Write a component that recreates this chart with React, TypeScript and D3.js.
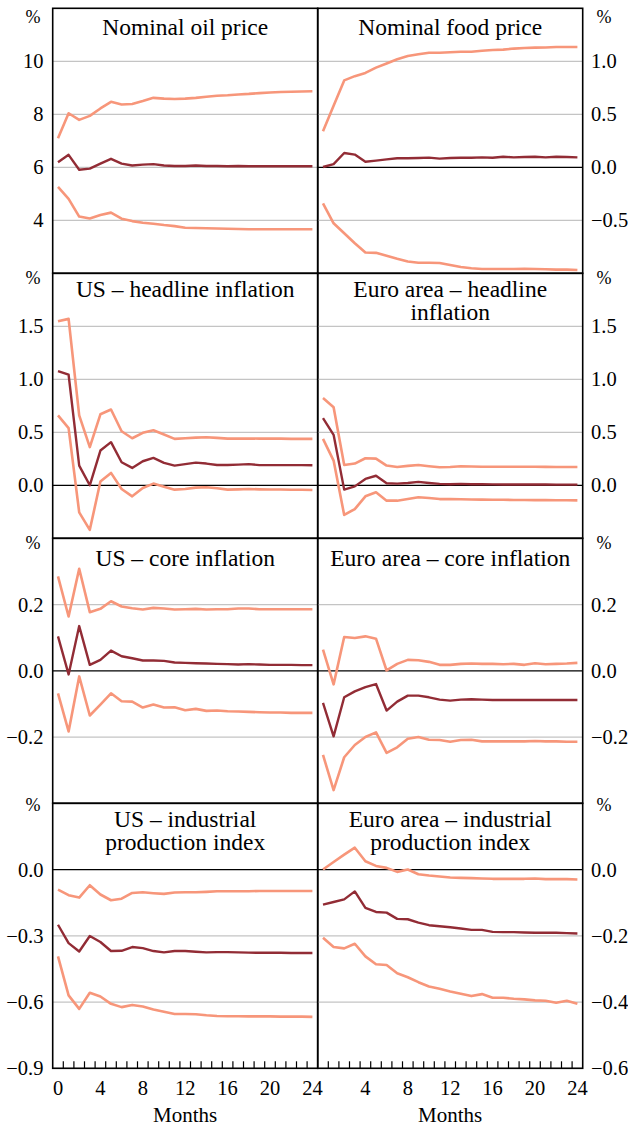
import React from "react";
import * as d3 from "d3";

// ---------- data (months 0..24) ----------
const months = d3.range(0, 25);

const oilUpper = [7.1, 8.04, 7.79, 7.94, 8.22, 8.47, 8.37, 8.39, 8.5, 8.62, 8.59, 8.58, 8.59, 8.62, 8.66, 8.7, 8.72, 8.75, 8.77, 8.8, 8.82, 8.84, 8.85, 8.86, 8.87];
const oilMid = [6.19, 6.47, 5.91, 5.95, 6.14, 6.32, 6.14, 6.07, 6.1, 6.12, 6.07, 6.05, 6.05, 6.07, 6.05, 6.05, 6.04, 6.05, 6.04, 6.04, 6.04, 6.04, 6.04, 6.04, 6.04];
const oilLower = [5.26, 4.81, 4.14, 4.07, 4.2, 4.29, 4.06, 3.97, 3.91, 3.87, 3.82, 3.78, 3.72, 3.71, 3.7, 3.69, 3.68, 3.67, 3.66, 3.66, 3.66, 3.66, 3.66, 3.66, 3.66];

const foodUpper = [0.34, 0.58, 0.82, 0.86, 0.89, 0.94, 0.98, 1.02, 1.05, 1.066, 1.08, 1.08, 1.085, 1.09, 1.09, 1.1, 1.107, 1.11, 1.12, 1.126, 1.129, 1.13, 1.135, 1.135, 1.135];
const foodMid = [0.003, 0.03, 0.135, 0.12, 0.053, 0.063, 0.075, 0.085, 0.085, 0.088, 0.091, 0.082, 0.088, 0.09, 0.09, 0.094, 0.09, 0.1, 0.094, 0.097, 0.1, 0.094, 0.1, 0.097, 0.094];
const foodLower = [-0.34, -0.528, -0.622, -0.716, -0.804, -0.807, -0.835, -0.863, -0.888, -0.9, -0.9, -0.903, -0.922, -0.941, -0.953, -0.96, -0.96, -0.96, -0.96, -0.958, -0.96, -0.962, -0.965, -0.965, -0.969];

const usHeadUpper = [1.547, 1.57, 0.66, 0.36, 0.67, 0.715, 0.51, 0.444, 0.495, 0.52, 0.48, 0.438, 0.444, 0.45, 0.454, 0.447, 0.44, 0.44, 0.442, 0.44, 0.44, 0.44, 0.438, 0.438, 0.438];
const usHeadMid = [1.078, 1.043, 0.186, 0.0, 0.328, 0.407, 0.217, 0.164, 0.227, 0.258, 0.211, 0.186, 0.2, 0.214, 0.205, 0.192, 0.192, 0.195, 0.2, 0.19, 0.19, 0.19, 0.19, 0.19, 0.189];
const usHeadLower = [0.66, 0.54, -0.255, -0.42, 0.035, 0.117, -0.035, -0.104, -0.025, 0.016, -0.013, -0.041, -0.035, -0.022, -0.019, -0.028, -0.041, -0.038, -0.035, -0.038, -0.04, -0.04, -0.042, -0.042, -0.044];

const euHeadUpper = [0.823, 0.737, 0.192, 0.205, 0.255, 0.252, 0.186, 0.173, 0.183, 0.192, 0.18, 0.17, 0.173, 0.18, 0.178, 0.175, 0.175, 0.175, 0.175, 0.175, 0.175, 0.174, 0.173, 0.173, 0.173];
const euHeadMid = [0.633, 0.476, -0.041, -0.01, 0.06, 0.09, 0.019, 0.016, 0.022, 0.032, 0.022, 0.013, 0.01, 0.013, 0.01, 0.01, 0.009, 0.008, 0.008, 0.007, 0.007, 0.007, 0.006, 0.006, 0.006];
const euHeadLower = [0.438, 0.233, -0.28, -0.224, -0.104, -0.066, -0.145, -0.145, -0.13, -0.113, -0.12, -0.13, -0.13, -0.132, -0.134, -0.135, -0.136, -0.137, -0.138, -0.139, -0.14, -0.14, -0.141, -0.141, -0.142];

const usCoreUpper = [0.285, 0.164, 0.308, 0.177, 0.187, 0.21, 0.194, 0.189, 0.185, 0.19, 0.188, 0.185, 0.186, 0.187, 0.185, 0.186, 0.186, 0.188, 0.188, 0.186, 0.186, 0.186, 0.186, 0.186, 0.186];
const usCoreMid = [0.104, -0.011, 0.135, 0.018, 0.033, 0.061, 0.044, 0.038, 0.031, 0.031, 0.03, 0.025, 0.024, 0.023, 0.022, 0.021, 0.02, 0.019, 0.02, 0.019, 0.018, 0.018, 0.018, 0.017, 0.017];
const usCoreLower = [-0.068, -0.183, -0.017, -0.135, -0.102, -0.068, -0.092, -0.093, -0.111, -0.102, -0.111, -0.11, -0.119, -0.115, -0.121, -0.12, -0.122, -0.123, -0.124, -0.125, -0.126, -0.126, -0.127, -0.127, -0.127];

const euCoreUpper = [0.064, -0.041, 0.102, 0.099, 0.104, 0.097, 0.001, 0.021, 0.033, 0.032, 0.027, 0.018, 0.018, 0.021, 0.022, 0.021, 0.021, 0.02, 0.021, 0.018, 0.023, 0.02, 0.021, 0.022, 0.024];
const euCoreMid = [-0.097, -0.198, -0.08, -0.062, -0.049, -0.04, -0.12, -0.093, -0.075, -0.075, -0.08, -0.087, -0.09, -0.087, -0.086, -0.087, -0.088, -0.088, -0.088, -0.088, -0.088, -0.088, -0.088, -0.088, -0.088];
const euCoreLower = [-0.254, -0.36, -0.261, -0.224, -0.2, -0.186, -0.248, -0.231, -0.205, -0.2, -0.208, -0.209, -0.214, -0.209, -0.208, -0.213, -0.213, -0.213, -0.213, -0.213, -0.212, -0.213, -0.213, -0.214, -0.214];

const usIpUpper = [-0.091, -0.116, -0.127, -0.071, -0.113, -0.139, -0.132, -0.106, -0.103, -0.107, -0.11, -0.104, -0.103, -0.103, -0.101, -0.098, -0.098, -0.098, -0.098, -0.097, -0.097, -0.097, -0.097, -0.097, -0.097];
const usIpMid = [-0.25, -0.333, -0.371, -0.301, -0.328, -0.369, -0.368, -0.351, -0.356, -0.369, -0.375, -0.369, -0.369, -0.372, -0.375, -0.374, -0.374, -0.375, -0.376, -0.377, -0.377, -0.377, -0.378, -0.378, -0.378];
const usIpLower = [-0.393, -0.57, -0.631, -0.558, -0.575, -0.608, -0.623, -0.613, -0.62, -0.634, -0.644, -0.654, -0.654, -0.655, -0.66, -0.663, -0.664, -0.664, -0.665, -0.665, -0.665, -0.666, -0.666, -0.666, -0.667];

const euIpUpper = [0.0, 0.023, 0.045, 0.066, 0.025, 0.011, 0.005, -0.007, 0.0, -0.014, -0.018, -0.021, -0.024, -0.025, -0.026, -0.027, -0.028, -0.028, -0.028, -0.028, -0.027, -0.029, -0.029, -0.029, -0.03];
const euIpMid = [-0.106, -0.098, -0.09, -0.066, -0.116, -0.128, -0.13, -0.149, -0.15, -0.16, -0.168, -0.171, -0.174, -0.178, -0.182, -0.182, -0.188, -0.189, -0.189, -0.19, -0.191, -0.191, -0.191, -0.192, -0.193];
const euIpLower = [-0.206, -0.234, -0.238, -0.224, -0.262, -0.286, -0.288, -0.313, -0.325, -0.34, -0.353, -0.36, -0.368, -0.375, -0.382, -0.376, -0.387, -0.387, -0.39, -0.392, -0.395, -0.396, -0.402, -0.396, -0.405];

const titles = [
  ["Nominal oil price"], ["Nominal food price"],
  ["US \u2013 headline inflation"], ["Euro area \u2013 headline", "inflation"],
  ["US \u2013 core inflation"], ["Euro area \u2013 core inflation"],
  ["US \u2013 industrial", "production index"], ["Euro area \u2013 industrial", "production index"],
];
const domains = [[2, 12], [-1, 1.5], [-0.5, 2], [-0.5, 2], [-0.4, 0.4], [-0.4, 0.4], [-0.9, 0.3], [-0.6, 0.2]];
const tickValues = [
  [4, 6, 8, 10], [-0.5, 0, 0.5, 1.0],
  [0, 0.5, 1.0, 1.5], [0, 0.5, 1.0, 1.5],
  [-0.2, 0, 0.2], [-0.2, 0, 0.2],
  [-0.9, -0.6, -0.3, 0], [-0.6, -0.4, -0.2, 0],
];
const tickFormats = ["d", ".1f", ".1f", ".1f", ".1f", ".1f", ".1f", ".1f"];
const seriesData = [
  [oilUpper, oilMid, oilLower], [foodUpper, foodMid, foodLower],
  [usHeadUpper, usHeadMid, usHeadLower], [euHeadUpper, euHeadMid, euHeadLower],
  [usCoreUpper, usCoreMid, usCoreLower], [euCoreUpper, euCoreMid, euCoreLower],
  [usIpUpper, usIpMid, usIpLower], [euIpUpper, euIpMid, euIpLower],
];
const monthLabels = [0, 4, 8, 12, 16, 20, 24];

// ---------- layout ----------
const W = 628, H = 1127;
const X0 = 52.7, PW = 265, Y0 = 8.3, PH = 265;
const titleOffset = [26.7, 23.4, 27.7, 23.4];
const pctOffset = [8.4, 4.5, 4, 1.5];
const LIGHT = "#F7967A";
const DARK = "#922C35";
const FONT = "'Liberation Serif', 'Times New Roman', serif";

function Panel({ idx }: { idx: number }) {
  const col = idx % 2;
  const row = Math.floor(idx / 2);
  const left = X0 + col * PW;
  const right = left + PW;
  const top = Y0 + row * PH;
  const bottom = top + PH;
  const x = d3.scaleLinear().domain([-0.5, 24.5]).range([left, right]);
  const y = d3.scaleLinear().domain(domains[idx]).range([bottom, top]);
  const line = d3.line<number>().x((_, i) => x(months[i])).y((d) => y(d));
  const fmt = d3.format(tickFormats[idx]);
  const [up, mid, low] = seriesData[idx];
  const isLast = row === 3;
  return (
    <g>
      {tickValues[idx].map((t) => (
        <line key={"g" + t} x1={left} x2={right} y1={y(t)} y2={y(t)}
          stroke={Math.abs(t) < 1e-9 && idx !== 0 ? "#000" : "#c4c4c4"} strokeWidth={1.2} />
      ))}
      {tickValues[idx].map((t) => (
        <text key={"t" + t} x={col === 0 ? 43.5 : 591} y={y(t)} dy="0.35em"
          textAnchor={col === 0 ? "end" : "start"} fontSize={20.5}>{fmt(t)}</text>
      ))}
      <text x={col === 0 ? 33 : 604} y={top + pctOffset[row]} dy="0.35em" textAnchor="middle" fontSize={18}>%</text>
      <path d={line(up) || ""} fill="none" stroke={LIGHT} strokeWidth={2.6} strokeLinejoin="round" />
      <path d={line(low) || ""} fill="none" stroke={LIGHT} strokeWidth={2.6} strokeLinejoin="round" />
      <path d={line(mid) || ""} fill="none" stroke={DARK} strokeWidth={2.4} strokeLinejoin="round" />
      {titles[idx].map((t, i) => (
        <text key={"ti" + i} x={(left + right) / 2} y={top + titleOffset[row] + i * 23.3}
          textAnchor="middle" fontSize={23.5}>{t}</text>
      ))}
      <rect x={left} y={top} width={PW} height={PH} fill="none" stroke="#000" strokeWidth={1.6} />
      {isLast && (
        <g>
          {d3.range(1, 25).map((k) => (
            <line key={"xt" + k} x1={left + (k * PW) / 25} x2={left + (k * PW) / 25}
              y1={bottom} y2={bottom - 7} stroke="#000" strokeWidth={1.2} />
          ))}
          {monthLabels.filter((m) => !(col === 1 && m === 0)).map((m) => (
            <text key={"xl" + m} x={x(m)} y={bottom + 27} textAnchor="middle" fontSize={20.5}>{m}</text>
          ))}
          <text x={(left + right) / 2} y={bottom + 53.5} textAnchor="middle" fontSize={21}>Months</text>
        </g>
      )}
    </g>
  );
}

export default function App() {
  return (
    <svg width={W} height={H} viewBox={`0 0 ${W} ${H}`}
      style={{ position: "absolute", left: 0, top: 0, background: "#fff" }}
      fontFamily={FONT} fill="#000">
      <rect x={0} y={0} width={W} height={H} fill="#fff" />
      {d3.range(8).map((i) => <Panel key={i} idx={i} />)}
    </svg>
  );
}
